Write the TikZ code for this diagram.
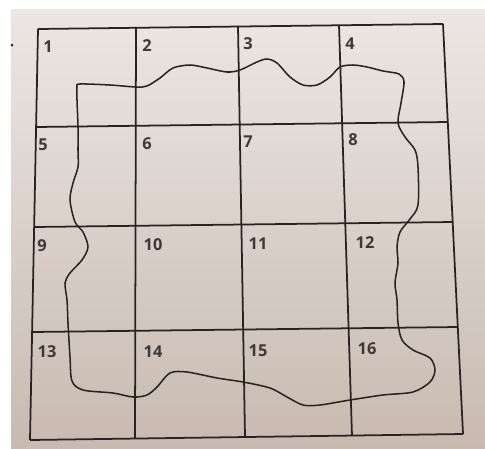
\documentclass[tikz,border=0pt]{standalone}
\usepackage{fontspec}
\setmainfont{Open Sans}
\usepackage{xcolor}
\definecolor{paperTop}{RGB}{236,231,228}
\definecolor{paperBot}{RGB}{200,186,176}
\definecolor{ink}{RGB}{40,35,33}
\tikzset{
  gridline/.style={draw=ink, line width=1.5pt},
  cellnum/.style={font=\fontsize{14}{14}\selectfont\bfseries, text=ink!90, inner sep=0pt},
  loopline/.style={draw=ink, line width=1.3pt}
}

\begin{document}
\begin{tikzpicture}[x=0.03cm, y=-0.03cm]
  % page
  \useasboundingbox (0,0) rectangle (485,448);
  \fill[white] (0,0) rectangle (485,448);
  \shade[top color=paperTop, bottom color=paperBot] (11,9) rectangle (485,448);
  \fill[ink] (12,45) circle (1.5);
  % ends of the grid lines
  \coordinate (L0) at (38,29);  \coordinate (R0) at (443,24);
  \coordinate (L1) at (36,127); \coordinate (R1) at (448,122);
  \coordinate (L2) at (34,227); \coordinate (R2) at (453,222);
  \coordinate (L3) at (32,332); \coordinate (R3) at (458,327);
  \coordinate (L4) at (30,440); \coordinate (R4) at (463,434);
  \coordinate (T0) at (38,29);  \coordinate (B0) at (30,440);
  \coordinate (T1) at (136,27); \coordinate (B1) at (135,438);
  \coordinate (T2) at (238,26); \coordinate (B2) at (245,437);
  \coordinate (T3) at (339,25); \coordinate (B3) at (352,436);
  \coordinate (T4) at (443,24); \coordinate (B4) at (463,434);
  % grid
  \foreach \i in {0,...,4} {
    \draw[gridline] (L\i) -- (R\i);
    \draw[gridline] (T\i) -- (B\i);
  }
  % cell numbers
  \node[cellnum] (n1)  at (48,47)   {1};
  \node[cellnum] (n2)  at (147,46)  {2};
  \node[cellnum] (n3)  at (248,44)  {3};
  \node[cellnum] (n4)  at (350,44)  {4};
  \node[cellnum] (n5)  at (43,145)  {5};
  \node[cellnum] (n6)  at (147,144) {6};
  \node[cellnum] (n7)  at (248,142) {7};
  \node[cellnum] (n8)  at (353,140) {8};
  \node[cellnum] (n9)  at (42,246)  {9};
  \node[cellnum] (n10) at (153,245) {10};
  \node[cellnum] (n11) at (258,244) {11};
  \node[cellnum] (n12) at (365,243) {12};
  \node[cellnum] (n13) at (47,352)  {13};
  \node[cellnum] (n14) at (153,352) {14};
  \node[cellnum] (n15) at (258,351) {15};
  \node[cellnum] (n16) at (367,349) {16};
  % the wavy loop
  \draw[loopline] plot[smooth cycle, tension=0.5] coordinates {
    (80,84) (110,85) (136,87) (147,86) (160,78) (173,68) (190,65)
    (207,68) (227,72) (240,70) (257,62) (267,59) (277,63) (290,77)
    (303,85) (317,85) (330,77) (340,67) (353,65) (367,67) (383,71)
    (399,74) (404,82) (401,103) (398,123) (405,137) (415,150)
    (418,167) (418,205) (410,219) (400,232) (397,247) (398,263)
    (395,283) (397,300) (398,323) (402,340) (413,350) (430,358)
    (435,370) (430,382) (413,392) (383,395) (350,400) (320,405)
    (303,405) (287,397) (270,388) (243,382) (217,378) (187,372)
    (170,373) (157,387) (147,395) (133,397) (113,393) (83,390)
    (72,381) (70,357) (68,323) (67,300) (65,283) (70,273) (82,260)
    (88,247) (83,232) (75,222) (70,200) (73,183) (78,167) (78,150)
    (78,127) (77,100) (77,87)
  };
\end{tikzpicture}
\end{document}
